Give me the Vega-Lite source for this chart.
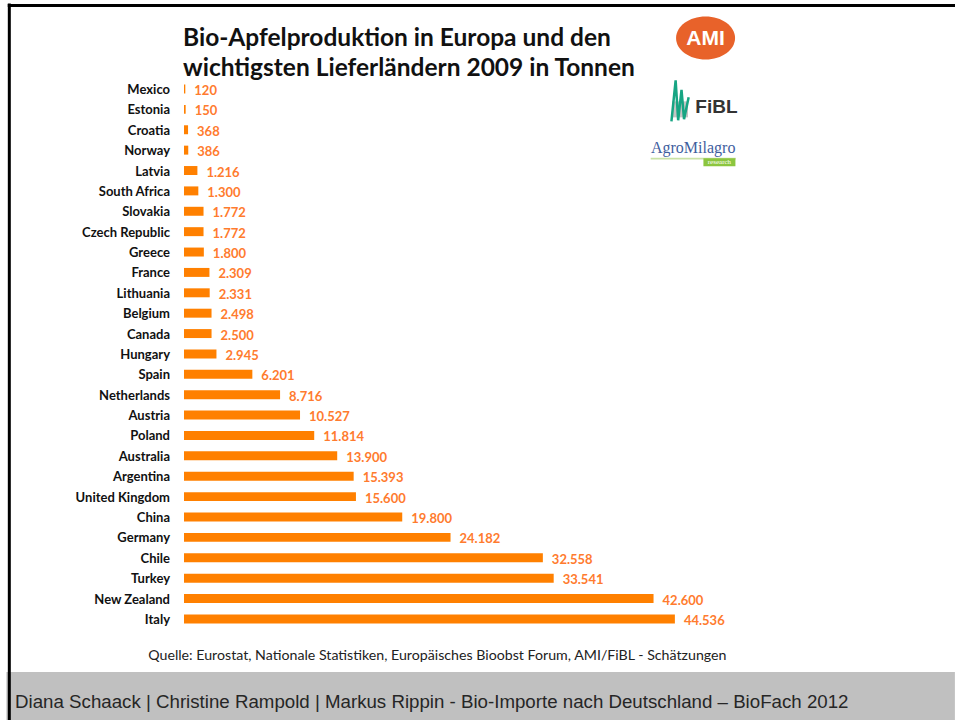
{
  "$schema": "https://vega.github.io/schema/vega-lite/v6.json",
  "autosize": "none",
  "width": 947,
  "height": 715,
  "padding": {"left": 8, "top": 5, "right": 0, "bottom": 0},
  "background": "white",
  "view": {"stroke": null},
  "config": {
    "locale": {"number": {"decimal": ",", "thousands": ".", "grouping": [3], "currency": ["", " €"]}},
    "font": "Lato"
  },
  "data": {"values": [
    {"country": "Mexico", "tonnes": 120},
    {"country": "Estonia", "tonnes": 150},
    {"country": "Croatia", "tonnes": 368},
    {"country": "Norway", "tonnes": 386},
    {"country": "Latvia", "tonnes": 1216},
    {"country": "South Africa", "tonnes": 1300},
    {"country": "Slovakia", "tonnes": 1772},
    {"country": "Czech Republic", "tonnes": 1772},
    {"country": "Greece", "tonnes": 1800},
    {"country": "France", "tonnes": 2309},
    {"country": "Lithuania", "tonnes": 2331},
    {"country": "Belgium", "tonnes": 2498},
    {"country": "Canada", "tonnes": 2500},
    {"country": "Hungary", "tonnes": 2945},
    {"country": "Spain", "tonnes": 6201},
    {"country": "Netherlands", "tonnes": 8716},
    {"country": "Austria", "tonnes": 10527},
    {"country": "Poland", "tonnes": 11814},
    {"country": "Australia", "tonnes": 13900},
    {"country": "Argentina", "tonnes": 15393},
    {"country": "United Kingdom", "tonnes": 15600},
    {"country": "China", "tonnes": 19800},
    {"country": "Germany", "tonnes": 24182},
    {"country": "Chile", "tonnes": 32558},
    {"country": "Turkey", "tonnes": 33541},
    {"country": "New Zealand", "tonnes": 42600},
    {"country": "Italy", "tonnes": 44536}
  ]},
  "encoding": {
    "y": {
      "field": "country", "type": "nominal", "sort": null, "axis": null,
      "scale": {
        "domain": ["Mexico","Estonia","Croatia","Norway","Latvia","South Africa","Slovakia","Czech Republic","Greece","France","Lithuania","Belgium","Canada","Hungary","Spain","Netherlands","Austria","Poland","Australia","Argentina","United Kingdom","China","Germany","Chile","Turkey","New Zealand","Italy"],
        "range": [73.8, 624.1], "paddingInner": 0.56, "paddingOuter": 0.28
      }
    }
  },
  "layer": [
    {
      "data": {"values": [{}]},
      "mark": {"type": "point", "filled": true, "opacity": 1, "color": "#C0C0C0", "size": 899652, "yOffset": 77,
               "shape": "M-1,-0.0506L1,-0.0506L1,0.0506L-1,0.0506Z"},
      "encoding": {"x": {"datum": 26914, "type": "quantitative", "axis": null, "scale": {"domain": [0, 44536], "range": [176, 672]}}, "y": {"datum": "Italy", "type": "nominal"}}
    },
    {
      "data": {"values": [{}]},
      "mark": {"type": "text", "align": "left", "baseline": "alphabetic", "dy": 89, "font": "Liberation Sans", "fontSize": 18.7, "color": "#262626",
               "text": "Diana Schaack | Christine Rampold | Markus Rippin - Bio-Importe nach Deutschland – BioFach 2012"},
      "encoding": {"x": {"datum": -15327, "type": "quantitative", "axis": null}, "y": {"datum": "Italy", "type": "nominal"}}
    },
    {
      "data": {"values": [{}]},
      "mark": {"type": "point", "filled": true, "opacity": 1, "color": "black", "size": 519841, "yOffset": 275,
               "shape": "M-0.00416,-1L0.00416,-1L0.00416,1L-0.00416,1Z"},
      "encoding": {"x": {"datum": -15848, "type": "quantitative", "axis": null}, "y": {"datum": "Mexico", "type": "nominal"}}
    },
    {
      "data": {"values": [{}]},
      "mark": {"type": "rule", "color": "black", "strokeWidth": 3, "yOffset": -83.5},
      "encoding": {
        "x": {"datum": -15990, "type": "quantitative", "axis": null},
        "x2": {"datum": 70000},
        "y": {"datum": "Mexico", "type": "nominal"}
      }
    },
    {
      "mark": {"type": "bar", "color": "#FF8000"},
      "encoding": {
        "x": {"field": "tonnes", "type": "quantitative", "axis": null}
      }
    },
    {
      "mark": {"type": "text", "align": "left", "baseline": "middle", "dx": 9, "dy": 2, "fontWeight": "bold", "fontSize": 13, "color": "#FF7B2E"},
      "encoding": {
        "x": {"field": "tonnes", "type": "quantitative", "axis": null},
        "text": {"field": "tonnes", "type": "quantitative", "format": ",d"}
      }
    },
    {
      "mark": {"type": "text", "align": "right", "baseline": "middle", "dx": -14, "dy": 1, "fontWeight": "bold", "fontSize": 13, "color": "#111111"},
      "encoding": {
        "x": {"datum": 0, "type": "quantitative", "axis": null},
        "text": {"field": "country", "type": "nominal"}
      }
    },
    {
      "data": {"values": [{}]},
      "mark": {"type": "text", "align": "left", "baseline": "alphabetic", "dx": -1, "dy": -42.5, "lineHeight": 30, "fontWeight": "bold", "fontSize": 24.5, "color": "#111111",
               "text": ["Bio-Apfelproduktion in Europa und den", "wichtigsten Lieferländern 2009 in Tonnen"]},
      "encoding": {"x": {"datum": 0, "type": "quantitative", "axis": null}, "y": {"datum": "Mexico", "type": "nominal"}}
    },
    {
      "data": {"values": [{}]},
      "mark": {"type": "text", "align": "center", "baseline": "alphabetic", "dy": 41, "fontSize": 14.2, "color": "#222222",
               "text": "Quelle: Eurostat, Nationale Statistiken, Europäisches Bioobst Forum, AMI/FiBL - Schätzungen"},
      "encoding": {"x": {"datum": 22986, "type": "quantitative", "axis": null}, "y": {"datum": "Italy", "type": "nominal"}}
    },
    {
      "data": {"values": [{}]},
      "mark": {"type": "point", "filled": true, "opacity": 1, "color": "#E8622A", "size": 3481, "yOffset": -51,
               "shape": "M-1,0A1,0.73,0,1,1,1,0A1,0.73,0,1,1,-1,0Z"},
      "encoding": {"x": {"datum": 47319, "type": "quantitative", "axis": null}, "y": {"datum": "Mexico", "type": "nominal"}}
    },
    {
      "data": {"values": [{}]},
      "mark": {"type": "text", "align": "center", "baseline": "middle", "dy": -50, "font": "Liberation Sans", "fontWeight": "bold", "fontSize": 21, "color": "white", "text": "AMI"},
      "encoding": {"x": {"datum": 47319, "type": "quantitative", "axis": null}, "y": {"datum": "Mexico", "type": "nominal"}}
    },
    {
      "data": {"values": [{}]},
      "mark": {"type": "point", "filled": true, "opacity": 1, "color": "#C4C4C4", "size": 256, "shape": "square"},
      "encoding": {"x": {"datum": 45000, "type": "quantitative", "axis": null}, "y": {"datum": "Estonia", "type": "nominal"}}
    },
    {
      "data": {"values": [{}]},
      "mark": {"type": "point", "filled": false, "opacity": 1, "color": "#17A583", "strokeWidth": 2.5, "size": 1764, "yOffset": -8,
               "shape": "M-0.4,0.95L-0.2,-1L-0.08,0.9L0.08,-0.55L0.2,0.85L0.42,-0.2"},
      "encoding": {"x": {"datum": 44985, "type": "quantitative", "axis": null}, "y": {"datum": "Estonia", "type": "nominal"}}
    },
    {
      "data": {"values": [{}]},
      "mark": {"type": "text", "align": "center", "baseline": "middle", "dy": -2, "font": "Liberation Sans", "fontWeight": "bold", "fontSize": 19, "color": "#333333", "text": "FiBL"},
      "encoding": {"x": {"datum": 48307, "type": "quantitative", "axis": null}, "y": {"datum": "Estonia", "type": "nominal"}}
    },
    {
      "data": {"values": [{}]},
      "mark": {"type": "text", "align": "center", "baseline": "alphabetic", "dy": 3, "font": "Liberation Serif", "fontSize": 16, "color": "#3F5E9E", "text": "AgroMilagro"},
      "encoding": {"x": {"datum": 46197, "type": "quantitative", "axis": null}, "y": {"datum": "Norway", "type": "nominal"}}
    },
    {
      "data": {"values": [{}]},
      "mark": {"type": "point", "filled": true, "opacity": 1, "color": "#C9E2A6", "size": 7225, "yOffset": 8.5,
               "shape": "M-1,-0.02L1,-0.02L1,0.02L-1,0.02Z"},
      "encoding": {"x": {"datum": 46197, "type": "quantitative", "axis": null}, "y": {"datum": "Norway", "type": "nominal"}}
    },
    {
      "data": {"values": [{}]},
      "mark": {"type": "point", "filled": true, "opacity": 1, "color": "#8CC63F", "size": 1024, "yOffset": 12,
               "shape": "M-1,-0.25L1,-0.25L1,0.25L-1,0.25Z"},
      "encoding": {"x": {"datum": 48576, "type": "quantitative", "axis": null}, "y": {"datum": "Norway", "type": "nominal"}}
    },
    {
      "data": {"values": [{}]},
      "mark": {"type": "text", "align": "center", "baseline": "middle", "dy": 12, "font": "Liberation Serif", "fontSize": 7, "color": "white", "text": "research"},
      "encoding": {"x": {"datum": 48576, "type": "quantitative", "axis": null}, "y": {"datum": "Norway", "type": "nominal"}}
    }
  ]
}
